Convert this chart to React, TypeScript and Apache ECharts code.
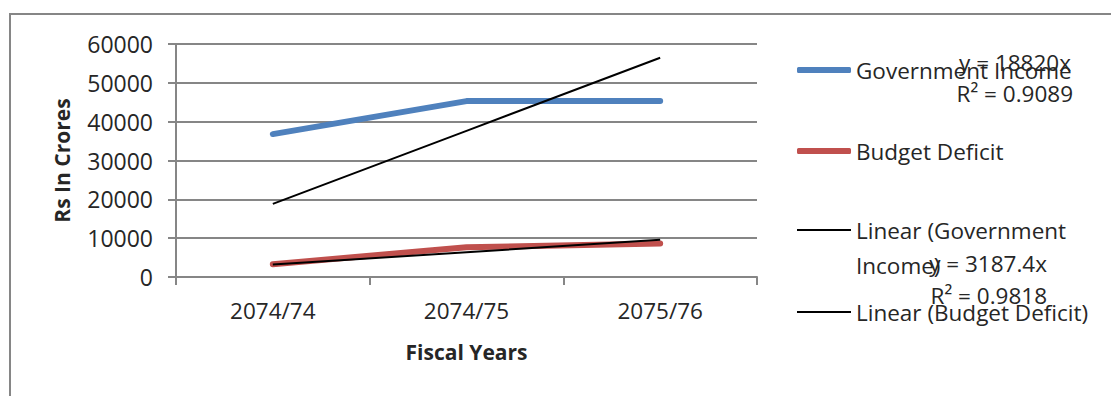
import React, { useEffect, useRef } from "react";
import * as echarts from "echarts";

const categories = ["2074/74", "2074/75", "2075/76"];
const governmentIncome = [36800, 45300, 45300];
const budgetDeficit = [3300, 7650, 8650];
const trendGovernmentIncome = [18820, 37640, 56460];
const trendBudgetDeficit = [3187.4, 6374.8, 9562.2];
const seriesNames = [
  "Government Income",
  "Budget Deficit",
  "Linear (Government Income)",
  "Linear (Budget Deficit)",
];
const FONT = "Open Sans";
const TEXT = "#262626";
const GRID = "#868686";

export default function App() {
  const ref = useRef<HTMLDivElement>(null);
  useEffect(() => {
    const chart = echarts.init(ref.current!, null, { renderer: "svg" });
    const legendBase = {
      orient: "horizontal",
      left: 797,
      padding: 0,
      itemWidth: 54,
      textStyle: { fontFamily: FONT, fontSize: 22.5, color: TEXT, lineHeight: 26 },
      selectedMode: false,
    };
    chart.setOption({
      animation: false,
      backgroundColor: "#ffffff",
      textStyle: { fontFamily: FONT },
      grid: { left: 176, right: 354, top: 44, bottom: 119 },
      xAxis: {
        type: "category",
        data: categories,
        boundaryGap: true,
        name: "Fiscal Years",
        nameLocation: "middle",
        nameGap: 64,
        nameTextStyle: { fontFamily: FONT, fontSize: 21, fontWeight: "bold", color: TEXT },
        axisLine: { lineStyle: { color: GRID, width: 2 } },
        axisTick: { show: true, length: 8, lineStyle: { color: GRID, width: 2 } },
        axisLabel: { fontFamily: FONT, fontSize: 22.5, color: TEXT, margin: 22 },
      },
      yAxis: {
        type: "value",
        min: 0,
        max: 60000,
        interval: 10000,
        name: "Rs In Crores",
        nameLocation: "middle",
        nameGap: 104,
        nameTextStyle: { fontFamily: FONT, fontSize: 21, fontWeight: "bold", color: TEXT },
        axisLine: { show: true, lineStyle: { color: GRID, width: 2 } },
        axisTick: { show: true, length: 8, lineStyle: { color: GRID, width: 2 } },
        axisLabel: {
          fontFamily: FONT,
          fontSize: 23,
          color: TEXT,
          margin: 23,
          formatter: (v: number) => String(v),
        },
        splitLine: { lineStyle: { color: GRID, width: 2 } },
      },
      legend: [
        { ...legendBase, top: 57, data: [{ name: seriesNames[0], icon: "roundRect" }], itemHeight: 6 },
        { ...legendBase, top: 138, data: [{ name: seriesNames[1], icon: "roundRect" }], itemHeight: 6 },
        {
          ...legendBase,
          top: 217,
          data: [{ name: seriesNames[2], icon: "rect" }],
          itemHeight: 2,
          formatter: () => "Linear (Government",
        },
        { ...legendBase, top: 299, data: [{ name: seriesNames[3], icon: "rect" }], itemHeight: 2 },
      ],
      series: [
        {
          name: seriesNames[0],
          type: "line",
          data: governmentIncome,
          color: "#4F81BD",
          showSymbol: false,
          lineStyle: { width: 6, cap: "round", join: "round" },
        },
        {
          name: seriesNames[1],
          type: "line",
          data: budgetDeficit,
          color: "#C0504D",
          showSymbol: false,
          lineStyle: { width: 6, cap: "round", join: "round" },
        },
        {
          name: seriesNames[2],
          type: "line",
          data: trendGovernmentIncome,
          color: "#000000",
          showSymbol: false,
          lineStyle: { width: 2 },
        },
        {
          name: seriesNames[3],
          type: "line",
          data: trendBudgetDeficit,
          color: "#000000",
          showSymbol: false,
          lineStyle: { width: 2 },
        },
      ],
      graphic: [
        {
          type: "rect",
          silent: true,
          shape: { x: 10, y: 14, width: 1300, height: 600 },
          style: { fill: "none", stroke: GRID, lineWidth: 2 },
        },
        {
          type: "text",
          x: 856,
          y: 265,
          style: { text: "Income)", fontFamily: FONT, fontSize: 22.5, fill: TEXT, align: "left", verticalAlign: "middle" },
        },
        {
          type: "text",
          x: 1071,
          y: 62,
          style: { text: "y = 18820x", fontFamily: FONT, fontSize: 22.5, fill: TEXT, align: "right", verticalAlign: "middle" },
        },
        {
          type: "text",
          x: 1073,
          y: 93,
          style: { text: "R² = 0.9089", fontFamily: FONT, fontSize: 22.5, fill: TEXT, align: "right", verticalAlign: "middle" },
        },
        {
          type: "text",
          x: 1047,
          y: 263,
          style: { text: "y = 3187.4x", fontFamily: FONT, fontSize: 22.5, fill: TEXT, align: "right", verticalAlign: "middle" },
        },
        {
          type: "text",
          x: 1047,
          y: 295,
          style: { text: "R² = 0.9818", fontFamily: FONT, fontSize: 22.5, fill: TEXT, align: "right", verticalAlign: "middle" },
        },
      ],
    });
    return () => chart.dispose();
  }, []);
  return (
    <div
      ref={ref}
      style={{ position: "absolute", left: 0, top: 0, width: 1111, height: 396 }}
    />
  );
}
